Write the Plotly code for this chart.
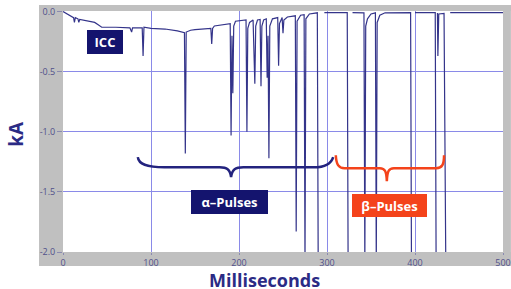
import plotly.graph_objects as go

# ---- data (ms, kA) ----
time_ms = [0, 5, 10, 12, 13, 14, 17, 18, 19, 25, 36, 40, 44, 60, 76, 78, 79, 90, 91, 92,
           100, 116, 130, 138, 139, 140, 145, 150, 160, 168, 169, 170, 172, 180, 190, 191,
           192, 193, 194, 196, 205, 208, 209, 210, 212, 216, 218, 219, 221, 224, 225, 226,
           228, 231, 232, 233, 234, 235, 238, 244, 245, 246, 249, 250, 251, 255, 264, 265,
           266, 270, 274, 275, 276, 280, 289, 290, None,
           297, 323, 324, None,
           329, 342, 343, 344, 346, 350, 355, 356, 357, 360, 366, 395, 396, None,
           400, 423, 424, None,
           425.5, 426, 427, 433, 435, None,
           440, 500]
current_kA = [0.0, -0.02, -0.04, -0.05, -0.09, -0.05, -0.06, -0.09, -0.065, -0.075, -0.09, -0.11,
              -0.13, -0.13, -0.135, -0.17, -0.135, -0.135, -0.37, -0.13,
              -0.14, -0.145, -0.16, -0.175, -1.18, -0.17, -0.155, -0.15, -0.145, -0.14, -0.27,
              -0.14, -0.12, -0.11, -0.10, -1.03,
              -0.20, -0.68, -0.12, -0.08, -0.075, -0.07, -1.0, -0.14, -0.09, -0.07, -0.6, -0.12,
              -0.07, -0.065, -0.62, -0.12,
              -0.07, -0.06, -0.55, -0.2, -1.22, -0.12, -0.06, -0.05, -0.45, -0.1, -0.05, -0.18,
              -0.07, -0.045, -0.035, -1.83,
              -0.08, -0.03, -0.025, -2.1, -0.06, -0.02, -0.01, -2.1, None,
              -0.008, -0.008, -2.1, None,
              -0.008, -0.01, -2.1, -0.12, -0.06, -0.02, -0.01, -2.1, -0.09, -0.03, -0.01, -0.008,
              -2.1, None,
              -0.008, -0.008, -2.1, None,
              -0.012, -0.37, -0.02, -0.015, -2.1, None,
              -0.008, -0.008]

x_ticks = [0, 100, 200, 300, 400, 500]
x_tick_labels = ["0", "100", "200", "300", "400", "500"]
y_ticks = [0.0, -0.5, -1.0, -1.5, -2.0]
y_tick_labels = ["0.0", "-0.5", "-1.0", "-1.5", "-2.0"]

NAVY = "#14146e"
RED = "#f4431b"
GRAY = "#c0c0c0"
FONT = "Open Sans"

fig = go.Figure()
fig.add_trace(go.Scatter(x=time_ms, y=current_kA, mode="lines",
                         line=dict(color="#34348a", width=1.2), connectgaps=False,
                         hoverinfo="skip", showlegend=False))

# gray frame around the plot area (paper coords)
L, R, B, T = -0.0545, 1.018, -0.058, 1.025
for x0, x1, y0, y1 in [(L, 0, B, T), (1, R, B, T), (L, R, 1, T), (L, R, B, 0)]:
    fig.add_shape(type="rect", xref="paper", yref="paper", x0=x0, x1=x1, y0=y0, y1=y1,
                  fillcolor=GRAY, line=dict(width=0), layer="below")

# braces
alpha_brace = ("M 85,-1.21 C 86,-1.27 95,-1.295 115,-1.295 L 178,-1.295 "
               "C 186,-1.295 190,-1.31 191,-1.378 C 192,-1.31 196,-1.295 205,-1.295 "
               "L 285,-1.295 C 300,-1.295 305,-1.26 307,-1.21")
beta_brace = ("M 310,-1.195 C 310.5,-1.27 313,-1.303 320,-1.303 L 360,-1.303 "
              "C 366,-1.303 367.5,-1.33 368,-1.41 C 368.5,-1.33 370,-1.303 376,-1.303 "
              "L 424,-1.303 C 431,-1.303 433,-1.27 433,-1.195")
fig.add_shape(type="path", xref="x", yref="y", path=alpha_brace,
              line=dict(color="#23237e", width=2.5))
fig.add_shape(type="path", xref="x", yref="y", path=beta_brace,
              line=dict(color=RED, width=2.5))

# labelled boxes
for txt, tx, ty, w, h, col in [("ICC", 47.7, -0.257, 36, 24, NAVY),
                               ("α–Pulses", 189, -1.585, 77, 24, NAVY),
                               ("β–Pulses", 371, -1.614, 75, 23, RED)]:
    fig.add_annotation(x=tx, y=ty, xref="x", yref="y", text=f"<b>{txt}</b>", showarrow=False,
                       width=w, height=h, bgcolor=col, borderpad=0, borderwidth=0,
                       font=dict(family=FONT, size=13, color="white"),
                       xanchor="center", yanchor="middle", valign="middle")

# axis titles
fig.add_annotation(x=0.459, y=-0.118, xref="paper", yref="paper", text="<b>Milliseconds</b>",
                   showarrow=False, font=dict(family=FONT, size=18, color="#2b2b85"),
                   xanchor="center", yanchor="middle")
fig.add_annotation(x=-0.107, y=0.49, xref="paper", yref="paper", text="<b>kA</b>",
                   showarrow=False, textangle=-90,
                   font=dict(family=FONT, size=19, color="#2b2b85"),
                   xanchor="center", yanchor="middle")

grid = "#8a8ae8"
fig.update_xaxes(range=[0, 500], tickvals=x_ticks, ticktext=x_tick_labels, automargin=False,
                 showgrid=True, gridcolor=grid, gridwidth=1, zeroline=False,
                 ticks="outside", ticklen=2, tickcolor="#8a8ab0", showline=False,
                 tickfont=dict(family=FONT, size=9, color="#50508a"))
fig.update_yaxes(range=[-2.0, 0.005], tickvals=y_ticks, ticktext=y_tick_labels, automargin=False,
                 showgrid=True, gridcolor=grid, gridwidth=1, zeroline=False,
                 ticks="outside", ticklen=5, tickcolor="#8a8ab0", showline=False,
                 tickfont=dict(family=FONT, size=9, color="#50508a"))

fig.update_layout(width=511, height=289, margin=dict(l=63, r=8, t=11, b=37, autoexpand=False),
                  paper_bgcolor="white", plot_bgcolor="white", showlegend=False)

fig.write_html("out.html", config={"displayModeBar": False},
               post_script="document.body.style.margin='0';"
               "document.body.style.padding='0';document.body.style.overflow='hidden';")
